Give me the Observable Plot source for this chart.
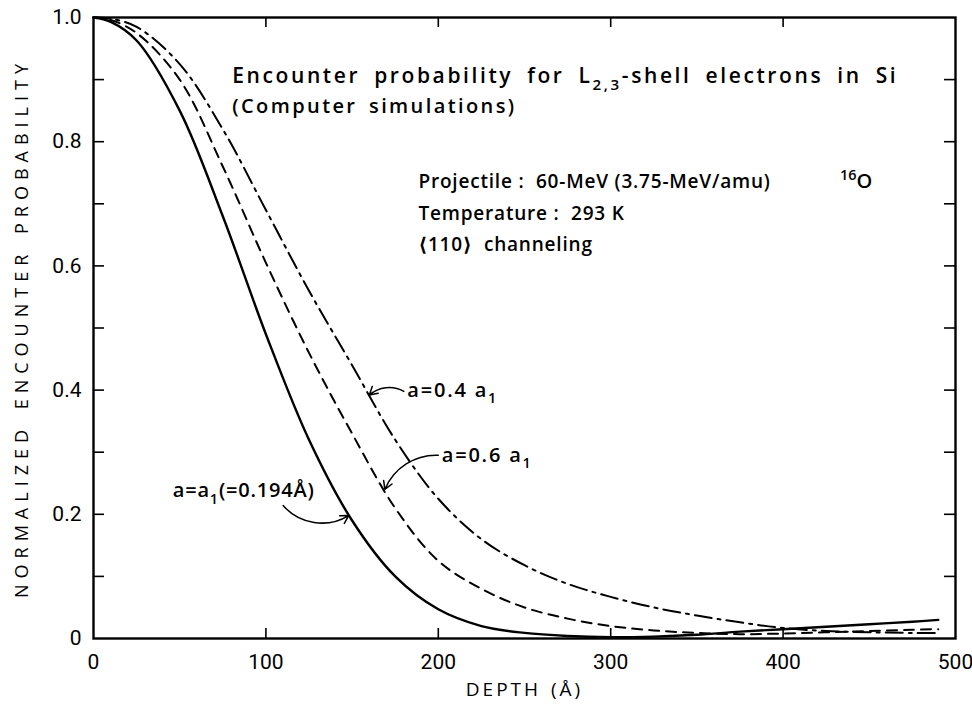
<!DOCTYPE html>
<html>
<head>
<meta charset="utf-8">
<script src="https://cdn.jsdelivr.net/npm/d3@7"></script>
<script src="https://cdn.jsdelivr.net/npm/@observablehq/plot@0.6"></script>
<style>
  html, body { margin: 0; padding: 0; background: #fff; }
  svg { display: block; }
</style>
</head>
<body>
<div id="chart"></div>
<script>
// Depth grid (Å) of the simulated encounter probabilities
const depth = [0, 10, 25, 50, 75, 100, 125, 150, 175, 200, 225, 250, 275, 300, 325, 350, 375, 400, 425, 450, 475, 490];

// Normalized encounter probability for three screening radii
const probA1  = [1.0, 0.993, 0.963, 0.85, 0.68, 0.49, 0.32, 0.19, 0.10, 0.047, 0.02, 0.009, 0.004, 0.002, 0.003, 0.006, 0.011, 0.015, 0.019, 0.023, 0.027, 0.03];
const probA06 = [1.0, 0.996, 0.975, 0.90, 0.76, 0.605, 0.46, 0.33, 0.21, 0.125, 0.08, 0.05, 0.032, 0.02, 0.013, 0.009, 0.007, 0.008, 0.01, 0.012, 0.014, 0.015];
const probA04 = [1.0, 0.998, 0.985, 0.925, 0.82, 0.69, 0.56, 0.44, 0.32, 0.225, 0.16, 0.118, 0.088, 0.067, 0.05, 0.037, 0.026, 0.017, 0.012, 0.01, 0.009, 0.009];

// Axis ticks
const xTickLabels = [0, 100, 200, 300, 400, 500];
const xInnerTicks = [100, 200, 300, 400];
const yTickLabels = [0, 0.2, 0.4, 0.6, 0.8, 1.0];
const yInnerTicks = [0.1, 0.2, 0.3, 0.4, 0.5, 0.6, 0.7, 0.8, 0.9];

// Curve labels
const labelA1  = "a=a_{1}(=0.194Å)";
const labelA06 = "a=0.6 a_{1}";
const labelA04 = "a=0.4 a_{1}";

const series = (values) => depth.map((d, i) => ({depth: d, prob: values[i]}));

const W = 972, H = 704;
const margin = {top: 17, right: 17, bottom: 66, left: 93};
const innerW = W - margin.left - margin.right;
const innerH = H - margin.top - margin.bottom;

const annoFont = "'Open Sans', 'DejaVu Sans', sans-serif";
const tickFont = "Roboto, 'Liberation Sans', sans-serif";

const chart = Plot.plot({
  width: W,
  height: H,
  marginTop: margin.top,
  marginRight: margin.right,
  marginBottom: margin.bottom,
  marginLeft: margin.left,
  x: {domain: [0, 500], label: null},
  y: {domain: [0, 1], label: null},
  style: {fontFamily: tickFont, fontSize: "21px", color: "#000", background: "#fff"},
  marks: [
    // tick marks pointing inward on all four sides
    Plot.tickX(xInnerTicks, {x: d => d, insetTop: innerH - 10, strokeWidth: 1.6}),
    Plot.tickX(xInnerTicks, {x: d => d, insetBottom: innerH - 10, strokeWidth: 1.6}),
    Plot.tickY(yInnerTicks, {y: d => d, insetRight: innerW - 11, strokeWidth: 1.6}),
    Plot.tickY(yInnerTicks, {y: d => d, insetLeft: innerW - 11, strokeWidth: 1.6}),
    Plot.axisX(xTickLabels, {tickSize: 0, tickPadding: 16, fontSize: 21, fontFamily: tickFont}),
    Plot.axisY(yTickLabels, {tickSize: 0, tickPadding: 12, fontSize: 21, fontFamily: tickFont,
      tickFormat: d => d === 0 ? "0" : d.toFixed(1)}),

    // curves
    Plot.line(series(probA1),  {x: "depth", y: "prob", curve: "catmull-rom", stroke: "#000", strokeWidth: 2.4}),
    Plot.line(series(probA06), {x: "depth", y: "prob", curve: "catmull-rom", stroke: "#000", strokeWidth: 2, strokeDasharray: "10,7"}),
    Plot.line(series(probA04), {x: "depth", y: "prob", curve: "catmull-rom", stroke: "#000", strokeWidth: 2, strokeDasharray: "17,6,3,6"}),

    Plot.frame({stroke: "#000", strokeWidth: 2.4}),

    // curved pointers from labels to curves
    Plot.arrow([{x1: 180, y1: 0.398, x2: 160, y2: 0.392}], {x1: "x1", y1: "y1", x2: "x2", y2: "y2", bend: -35, headLength: 9, strokeWidth: 1.5}),
    Plot.arrow([{x1: 200, y1: 0.295, x2: 169, y2: 0.24}], {x1: "x1", y1: "y1", x2: "x2", y2: "y2", bend: -35, headLength: 9, strokeWidth: 1.5}),
    Plot.arrow([{x1: 110, y1: 0.214, x2: 148, y2: 0.198}], {x1: "x1", y1: "y1", x2: "x2", y2: "y2", bend: -40, headLength: 9, strokeWidth: 1.5}),

    // curve labels
    Plot.text([labelA04], {x: 182, y: 0.40, text: d => d, textAnchor: "start", fontSize: 20, fontFamily: annoFont, fontWeight: 600}),
    Plot.text([labelA06], {x: 202, y: 0.295, text: d => d, textAnchor: "start", fontSize: 20, fontFamily: annoFont, fontWeight: 600}),
    Plot.text([labelA1],  {x: 46, y: 0.238, text: d => d, textAnchor: "start", fontSize: 20, fontFamily: annoFont, fontWeight: 600}),

    // descriptive annotation
    Plot.text(["Encounter probability for L_{2,3}-shell electrons in Si"], {x: 80.5, y: 0.905, text: d => d, textAnchor: "start", fontSize: 21, fontFamily: annoFont, fontWeight: 600}),
    Plot.text(["(Computer simulations)"], {x: 80.5, y: 0.857, text: d => d, textAnchor: "start", fontSize: 20, fontFamily: annoFont, fontWeight: 600}),
    Plot.text(["Projectile :  60-MeV (3.75-MeV/amu)"], {x: 188.5, y: 0.735, text: d => d, textAnchor: "start", fontSize: 19, fontFamily: annoFont, fontWeight: 600}),
    Plot.text(["^{16}O"], {x: 433, y: 0.735, text: d => d, textAnchor: "start", fontSize: 20, fontFamily: annoFont, fontWeight: 600}),
    Plot.text(["Temperature :  293 K"], {x: 188.5, y: 0.684, text: d => d, textAnchor: "start", fontSize: 19, fontFamily: annoFont, fontWeight: 600}),
    Plot.text(["⟨110⟩  channeling"], {x: 188.5, y: 0.634, text: d => d, textAnchor: "start", fontSize: 19, fontFamily: annoFont, fontWeight: 600}),

    // axis titles
    Plot.text(["DEPTH (Å)"], {frameAnchor: "bottom", dy: 57, text: d => d, fontSize: 19, fontFamily: annoFont, fontWeight: 500}),
    Plot.text(["NORMALIZED ENCOUNTER PROBABILITY"], {frameAnchor: "left", textAnchor: "middle", dx: -71, rotate: -90, text: d => d, fontSize: 18, fontFamily: annoFont, fontWeight: 500})
  ]
});

document.getElementById("chart").appendChild(chart);

// Turn _{...} / ^{...} markup into sub/superscript tspans, and set letter spacing
const spacing = [
  [s => s === "NORMALIZED ENCOUNTER PROBABILITY", {ls: 6, ws: 4}],
  [s => s === "DEPTH (Å)", {ls: 3, ws: 2}],
  [s => s.startsWith("Encounter"), {ls: 2.6, ws: 6}],
  [s => s.startsWith("(Computer"), {ls: 2.4, ws: 4}],
  [s => s.startsWith("Projectile") || s.startsWith("Temperature") || s.includes("channeling"), {ls: 0.8, ws: 0}],
  [s => s.startsWith("a=0."), {ls: 1.8, ws: 0}],
  [s => s.startsWith("a=a"), {ls: 0.8, ws: 0}]
];
d3.select(chart).selectAll("text").each(function() {
  const s = this.textContent;
  const fs = parseFloat(getComputedStyle(this).fontSize) || 19;
  for (const [test, sp] of spacing) {
    if (test(s)) d3.select(this).attr("letter-spacing", sp.ls).attr("word-spacing", sp.ws);
  }
  if (!/[_^]\{/.test(s)) return;
  const parts = s.split(/([_^]\{[^}]*\})/).filter(p => p);
  this.textContent = "";
  let shift = 0;
  for (const p of parts) {
    const m = p.match(/^([_^])\{([^}]*)\}$/);
    const t = d3.select(this).append("tspan");
    if (m) {
      const target = m[1] === "_" ? 0.32 * fs : -0.42 * fs;
      t.attr("dy", target - shift).attr("font-size", 0.72 * fs).text(m[2]);
      shift = target;
    } else {
      t.attr("dy", -shift).text(p);
      shift = 0;
    }
  }
});
</script>
</body>
</html>
